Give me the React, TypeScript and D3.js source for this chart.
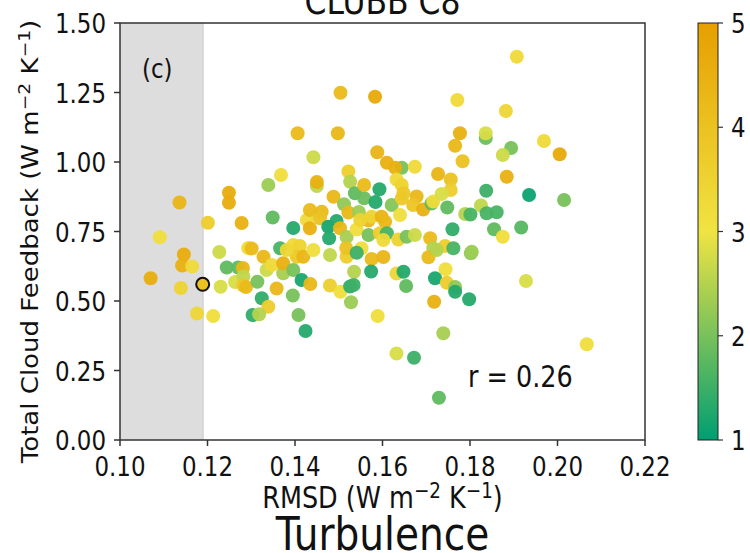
import React from "react";
import * as d3 from "d3";

// ---------- data ----------
const rmsd = [
  0.1070, 0.1091, 0.1136, 0.1146, 0.1142, 0.1165, 0.1139, 0.1176, 0.1213,
  0.1201, 0.1249, 0.1249, 0.1278, 0.1227, 0.1230, 0.1244, 0.1270, 0.1281, 0.1263, 0.1282, 0.1282, 0.1288,
  0.1314, 0.1324, 0.1339, 0.1303, 0.1318, 0.1293, 0.1301, 0.1328, 0.1335, 0.1347, 0.1358, 0.1339, 0.1368,
  0.1349, 0.1373, 0.1373, 0.1366, 0.1396, 0.1396, 0.1411, 0.1404, 0.1419, 0.1396, 0.1415, 0.1435, 0.1395,
  0.1408, 0.1424, 0.1406, 0.1442, 0.1427, 0.1434, 0.1461, 0.1457, 0.1434, 0.1450, 0.1450, 0.1442, 0.1480,
  0.1488, 0.1476, 0.1495, 0.1503, 0.1478, 0.1518, 0.1512, 0.1504, 0.1498, 0.1522, 0.1526, 0.1522, 0.1546,
  0.1537, 0.1558, 0.1558, 0.1541, 0.1518, 0.1517, 0.1552, 0.1541, 0.1535, 0.1480, 0.1504, 0.1526, 0.1534,
  0.1528, 0.1568, 0.1568, 0.1575, 0.1583, 0.1588, 0.1593, 0.1584, 0.1575, 0.1574, 0.1602, 0.1598, 0.1606,
  0.1594, 0.1610, 0.1602, 0.1589, 0.1610, 0.1644, 0.1629, 0.1674, 0.1632, 0.1644, 0.1621, 0.1644, 0.1648,
  0.1640, 0.1636, 0.1655, 0.1674, 0.1678, 0.1670, 0.1693, 0.1712, 0.1716, 0.1727, 0.1756, 0.1756, 0.1735,
  0.1748, 0.1709, 0.1716, 0.1743, 0.1762, 0.1760, 0.1705, 0.1724, 0.1744, 0.1720, 0.1747, 0.1766, 0.1766,
  0.1718, 0.1798, 0.1802, 0.1632, 0.1648, 0.1654, 0.1632, 0.1672, 0.1739, 0.1729, 0.1771, 0.1777, 0.1766,
  0.1783, 0.1836, 0.1836, 0.1894, 0.1875, 0.1882, 0.1884, 0.1837, 0.1825, 0.1789, 0.1801, 0.1838, 0.1861,
  0.1855, 0.1917, 0.1875, 0.1804, 0.1907, 0.1928, 0.1935, 0.1969, 0.2005, 0.2015, 0.2067, 0.1381, 0.1549,
];
const feedback = [
  0.5817, 0.7291, 0.8543, 0.6673, 0.6277, 0.6241, 0.5468, 0.4550, 0.4460,
  0.7817, 0.8896, 0.8536, 0.7806, 0.6763, 0.5514, 0.6205, 0.6205, 0.6187, 0.5683, 0.5881, 0.5558, 0.5504,
  0.5694, 0.5097, 0.4795, 0.4496, 0.4522, 0.6906, 0.6888, 0.6593, 0.6115, 0.6295, 0.5450, 0.9173, 0.9532,
  0.8004, 0.5996, 0.6356, 0.6896, 0.7626, 0.7014, 0.6978, 0.6593, 0.6593, 0.6115, 0.5755, 0.5611, 0.5198,
  0.4496, 0.3921, 1.1032, 1.0169, 0.7914, 0.8273, 0.8212, 0.7975, 0.7615, 0.9137, 0.9281, 0.6834, 0.6655,
  0.8752, 0.7673, 0.7878, 0.7615, 0.7255, 0.7302, 0.8478, 1.2493, 1.1032, 0.9658, 0.9291, 0.8183, 0.8201,
  0.8874, 0.8694, 0.9173, 0.7572, 0.6593, 0.6906, 0.6896, 0.6737, 0.6054, 0.5558, 0.5334, 0.5522, 0.5576,
  0.4953, 0.7896, 0.7374, 0.8032, 1.2349, 1.0349, 0.9018, 0.8561, 0.6511, 0.6061, 0.6583, 0.8032, 0.7853,
  0.7435, 0.7435, 0.7194, 0.4460, 0.9975, 0.9795, 0.9795, 0.9831, 0.9370, 0.9173, 0.8453, 0.8687, 0.8874,
  0.8093, 0.7212, 0.7313, 0.7374, 0.8759, 0.8453, 0.8291, 0.8507, 0.8579, 0.9568, 0.9370, 0.8993, 0.8849,
  0.8363, 0.7255, 0.6896, 0.6978, 0.6896, 0.7579, 0.6572, 0.6834, 0.6140, 0.5817, 0.5658, 0.5504, 0.5334,
  0.4975, 0.5061, 0.6716, 0.5989, 0.6054, 0.5540, 0.3111, 0.2960, 0.3838, 0.1522, 1.2230, 1.1032, 1.0583,
  1.0029, 1.0863, 1.1032, 1.0504, 1.0252, 1.1834, 0.9471, 0.8968, 0.8435, 0.8129, 0.8111, 0.8155, 0.8191,
  0.7579, 0.7644, 0.7313, 0.6773, 1.3788, 0.5719, 0.8813, 1.0755, 1.0277, 0.8633, 0.3442, 0.6834, 0.7914,
];
const colorValue = [
  4.6, 3.2, 4.4, 4.6, 4.5, 3.3, 3.5, 3.4, 3.2,
  3.7, 4.6, 4.6, 4.5, 2.7, 2.8, 1.8, 1.8, 4.3, 2.8, 2.6, 3.8, 4.2,
  2.0, 1.4, 3.7, 1.4, 2.5, 3.3, 4.2, 4.3, 2.7, 3.3, 4.3, 2.3, 3.2,
  1.8, 2.4, 4.5, 1.6, 1.3, 3.3, 3.5, 3.8, 4.3, 2.0, 1.2, 4.3, 2.0,
  2.0, 1.3, 4.2, 2.7, 3.3, 4.2, 4.2, 4.0, 4.5, 2.6, 4.5, 3.2, 2.6,
  4.3, 1.2, 1.3, 4.3, 1.3, 2.4, 2.2, 4.2, 4.3, 3.6, 2.5, 4.3, 2.3,
  1.8, 1.9, 4.2, 3.2, 3.7, 4.0, 3.2, 1.5, 2.5, 3.6, 3.2, 1.4, 1.5,
  2.3, 4.3, 2.0, 3.5, 4.7, 4.4, 1.3, 1.3, 4.2, 1.3, 4.4, 4.4, 4.3,
  3.7, 1.6, 3.3, 3.2, 4.5, 2.0, 4.5, 3.3, 3.3, 3.5, 2.1, 3.8, 3.8,
  3.2, 3.5, 2.0, 2.7, 4.3, 3.9, 4.5, 1.8, 3.2, 4.4, 4.0, 3.6, 2.8,
  1.8, 4.2, 2.5, 3.7, 1.6, 1.4, 4.2, 2.5, 3.2, 1.2, 3.7, 2.2, 1.3,
  4.5, 1.3, 2.2, 3.4, 1.3, 1.8, 2.8, 1.5, 2.4, 1.8, 3.3, 4.5, 4.3,
  4.0, 1.9, 2.8, 2.0, 2.7, 3.4, 4.5, 1.5, 2.6, 2.5, 1.6, 1.6, 1.6,
  1.8, 1.7, 3.2, 2.3, 3.3, 2.8, 1.1, 3.3, 4.7, 2.0, 3.2, 3.4, 3.5,
];
const highlightRmsd = 0.1189;
const highlightFeedback = 0.5601;
const highlightValue = 4.0;

const xTicks = [0.10, 0.12, 0.14, 0.16, 0.18, 0.20, 0.22];
const yTicks = [0.0, 0.25, 0.5, 0.75, 1.0, 1.25, 1.5];
const cbarTicks = [1, 2, 3, 4, 5];
const obsLimit = 0.119;

const titleText = "CLUBB C8";
const bottomTitle = "Turbulence";
const panelLabel = "(c)";
const corrText = "r = 0.26";

// ---------- layout ----------
const W = 750, H = 553;
const M = { left: 120, right: 645, top: 23, bottom: 440 };
const CB = { x0: 698, x1: 718 };
const SX = 0.85;
const FONT = "DejaVu Sans, sans-serif";
const TXT = "#111";

const cmap = d3.scaleLinear<string>().domain([1, 3, 5]).range(["#009E73", "#F0E442", "#E69F00"]).interpolate(d3.interpolateRgb);

function T(props: { x: number; y: number; size: number; anchor?: string; rotate?: number; children: React.ReactNode }) {
  const { x, y, size, anchor = "start", rotate = 0, children } = props;
  return (
    <text
      transform={`translate(${x},${y}) scale(${SX},1) rotate(${rotate})`}
      fontSize={size}
      fontFamily={FONT}
      textAnchor={anchor}
      fill={TXT}
    >
      {children}
    </text>
  );
}

function Units() {
  return (
    <>
      {"(W m"}
      <tspan dy={-10} fontSize="0.72em">−2</tspan>
      <tspan dy={10}>{" K"}</tspan>
      <tspan dy={-10} fontSize="0.72em">−1</tspan>
      <tspan dy={10}>)</tspan>
    </>
  );
}

export default function App() {
  const x = d3.scaleLinear().domain([0.1, 0.22]).range([M.left, M.right]);
  const y = d3.scaleLinear().domain([0, 1.5]).range([M.bottom, M.top]);
  const cy = d3.scaleLinear().domain([1, 5]).range([M.bottom, M.top]);
  const pts = rmsd.map((r, i) => ({ r, f: feedback[i], c: colorValue[i] }));
  const gradStops = d3.range(0, 1.0001, 0.05);

  return (
    <svg width={W} height={H} style={{ position: "absolute", left: 0, top: 0, background: "#fff" }}>
      <defs>
        <linearGradient id="cb" x1="0" y1="1" x2="0" y2="0">
          {gradStops.map((t) => (
            <stop key={t} offset={t} stopColor={cmap(1 + 4 * t)} />
          ))}
        </linearGradient>
        <clipPath id="plotclip">
          <rect x={M.left} y={M.top} width={M.right - M.left} height={M.bottom - M.top} />
        </clipPath>
      </defs>
      <rect x={0} y={0} width={W} height={H} fill="#fff" />

      {/* observational span */}
      <rect x={x(0.1)} y={M.top} width={x(obsLimit) - x(0.1)} height={M.bottom - M.top} fill="#dddddd" />
      <line x1={x(obsLimit)} x2={x(obsLimit)} y1={M.top} y2={M.bottom} stroke="#cccccc" strokeWidth={1} />

      {/* points */}
      <g clipPath="url(#plotclip)">
        {pts.map((p, i) => (
          <circle key={i} cx={x(p.r)} cy={y(p.f)} r={7} fill={cmap(p.c)} fillOpacity={0.95} />
        ))}
        <circle cx={x(highlightRmsd)} cy={y(highlightFeedback)} r={6.5} fill={cmap(highlightValue)} stroke="#111" strokeWidth={2} />
      </g>

      {/* spines */}
      <rect x={M.left} y={M.top} width={M.right - M.left} height={M.bottom - M.top} fill="none" stroke="#333" strokeWidth={1.5} />

      {/* x ticks */}
      {xTicks.map((t) => (
        <g key={"x" + t}>
          <line x1={x(t)} x2={x(t)} y1={M.bottom} y2={M.bottom + 6} stroke="#333" strokeWidth={1.5} />
          <T x={x(t)} y={M.bottom + 36} size={27} anchor="middle">{t.toFixed(2)}</T>
        </g>
      ))}
      {/* y ticks */}
      {yTicks.map((t) => (
        <g key={"y" + t}>
          <line x1={M.left - 6} x2={M.left} y1={y(t)} y2={y(t)} stroke="#333" strokeWidth={1.5} />
          <T x={M.left - 14} y={y(t) + 10} size={27} anchor="end">{t.toFixed(2)}</T>
        </g>
      ))}

      {/* labels */}
      <T x={(M.left + M.right) / 2} y={508} size={30} anchor="middle">RMSD <Units /></T>
      <T x={38} y={(M.top + M.bottom) / 2 + 10} size={26} anchor="middle" rotate={-90}>Total Cloud Feedback <Units /></T>
      <T x={(M.left + M.right) / 2} y={550} size={46} anchor="middle">{bottomTitle}</T>
      <T x={(M.left + M.right) / 2} y={14} size={37} anchor="middle">{titleText}</T>
      <T x={142} y={78} size={27} anchor="start">{panelLabel}</T>
      <T x={468} y={387} size={30} anchor="start">{corrText}</T>

      {/* colorbar */}
      <rect x={CB.x0} y={M.top} width={CB.x1 - CB.x0} height={M.bottom - M.top} fill="url(#cb)" stroke="#222" strokeWidth={1} />
      {cbarTicks.map((t) => (
        <g key={"c" + t}>
          <line x1={CB.x1} x2={CB.x1 + 5} y1={cy(t)} y2={cy(t)} stroke="#333" strokeWidth={1.2} />
          <T x={CB.x1 + 13} y={cy(t) + 10} size={27} anchor="start">{String(t)}</T>
        </g>
      ))}
    </svg>
  );
}
